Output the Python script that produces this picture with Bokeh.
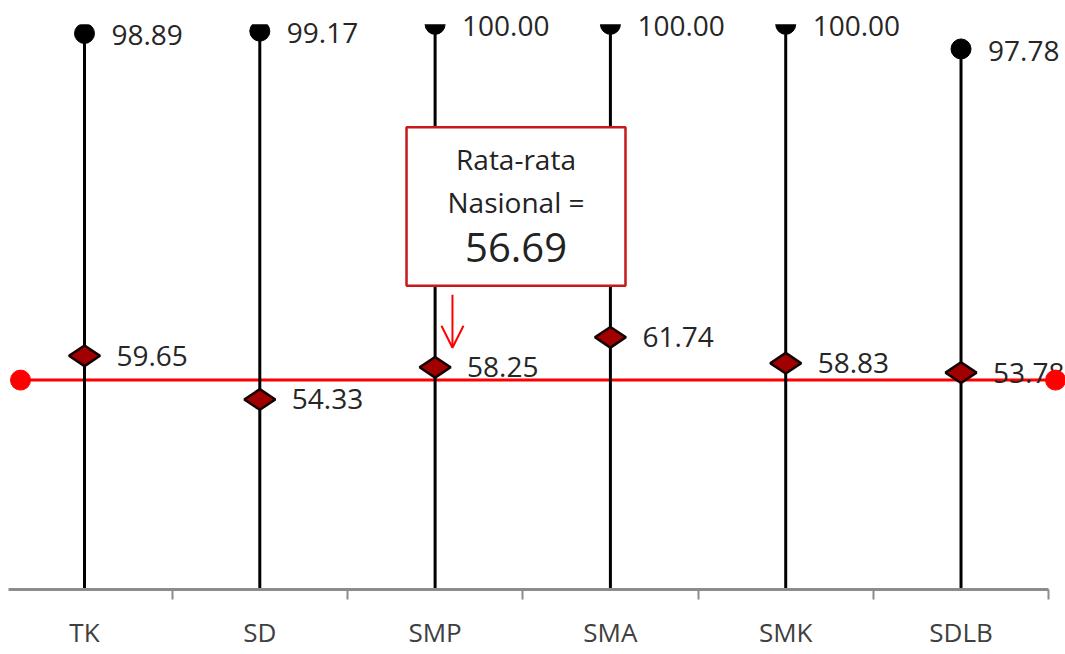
from bokeh.plotting import figure
from bokeh.models import (ColumnDataSource, FixedTicker, LabelSet, Label,
                          BoxAnnotation, Arrow, OpenHead, Range1d)
from bokeh.embed import file_html
from bokeh.resources import INLINE
from bokeh.core.properties import value

# ---- data ----
categories = ["TK", "SD", "SMP", "SMA", "SMK", "SDLB"]
positions = [1, 2, 3, 4, 5, 6]
max_values = [98.89, 99.17, 100.00, 100.00, 100.00, 97.0]
max_labels = ["98.89", "99.17", "100.00", "100.00", "100.00", "97.78"]
mean_values = [59.65, 54.33, 58.25, 61.9, 58.75, 57.6]
mean_labels = ["59.65", "54.33", "58.25", "61.74", "58.83", "53.78"]
national_avg = 56.69
national_x = [0.635, 6.539]
national_text = ["Rata-rata", "Nasional =", "56.69"]

PLOT_TOP = 100.0          # top of the chart's value area
Y_MIN, Y_MAX = 31.2, 102.9
X_MIN, X_MAX = 0.5665, 6.596

src = ColumnDataSource(dict(
    x=positions, top=max_values, top_lbl=max_labels,
    mean=mean_values, mean_lbl=mean_labels,
    base=[Y_MIN] * len(positions),
))
line_src = ColumnDataSource(dict(x=national_x, y=[national_avg] * len(national_x)))

p = figure(width=1065, height=652, output_backend="svg", toolbar_location=None,
           x_range=Range1d(X_MIN, X_MAX), y_range=Range1d(Y_MIN, Y_MAX),
           y_axis_location=None, min_border_left=8, min_border_right=0,
           min_border_top=0, min_border_bottom=62)
p.xgrid.visible = False
p.ygrid.visible = False
p.outline_line_color = None
p.background_fill_color = "white"
p.border_fill_color = "white"

# national average line
p.line("x", "y", source=line_src, line_color="#ff0000", line_width=3)

# stems
p.segment(x0="x", y0="base", x1="x", y1="top", source=src,
          line_color="black", line_width=3)
p.scatter("x", "top", source=src, size=20, marker="circle",
          fill_color="black", line_color="black")

# the value area ends at 100: markers are cut there, as in the reference
p.add_layout(BoxAnnotation(bottom=PLOT_TOP, fill_color="white", fill_alpha=1.0,
                           line_color=None, level="glyph"))

# mean diamonds
p.scatter("x", "mean", source=src, size=31, marker="diamond", angle=1.5708,
          fill_color="#a00000", line_color="#140000", line_width=2.5)

# value labels
p.add_layout(LabelSet(x="x", y="top", text="top_lbl", source=src,
                      x_offset=27, y_offset=-2, text_baseline="middle",
                      text_align="left", text_font=value("Open Sans"),
                      text_font_size="28px", text_color="#262626"))
p.add_layout(LabelSet(x="x", y="mean", text="mean_lbl", source=src,
                      x_offset=32, y_offset=0, text_baseline="middle",
                      text_align="left", text_font=value("Open Sans"),
                      text_font_size="28px", text_color="#262626"))

# end points of the national line drawn above labels (as in reference)
p.scatter("x", "y", source=line_src, size=20, marker="circle",
          fill_color="#ff0000", line_color="#ff0000", level="overlay")

# annotation box
p.add_layout(BoxAnnotation(left=2.837, right=4.086, top=87.48, bottom=68.17,
                           fill_color="white", fill_alpha=1.0,
                           line_color="#c81818", line_alpha=1.0,
                           line_width=2.5, level="overlay"))
for txt, yy, fs in zip(national_text, [83.6, 78.37, 72.78], ["28px", "28px", "40px"]):
    lab = Label(x=3.4615, y=yy, text=txt, text_align="center",
                text_baseline="middle", text_font="Open Sans",
                text_font_size=fs, text_color="#222222", level="overlay")
    p.add_layout(lab)
p.add_layout(Arrow(end=OpenHead(size=22, line_color="#ff0000", line_width=2),
                   x_start=3.099, y_start=67.07, x_end=3.099, y_end=60.63,
                   line_color="#ff0000", line_width=2))

# x axis
ax = p.xaxis[0]
ax.ticker = FixedTicker(ticks=positions, minor_ticks=[0.5, 1.5, 2.5, 3.5, 4.5, 5.5, 6.5])
ax.major_label_overrides = {pos: c for pos, c in zip(positions, categories)}
ax.bounds = (0.5, 6.5)
ax.axis_line_color = "#8c8c8c"
ax.axis_line_width = 3
ax.major_tick_line_color = None
ax.major_tick_out = 0
ax.major_tick_in = 0
ax.minor_tick_line_color = "#8c8c8c"
ax.minor_tick_line_width = 2
ax.minor_tick_out = 10
ax.minor_tick_in = 0
ax.major_label_standoff = 14
ax.major_label_text_font = "Open Sans"
ax.major_label_text_font_size = "26px"
ax.major_label_text_color = "#404040"

open("out.html", "w").write(file_html(p, INLINE))
